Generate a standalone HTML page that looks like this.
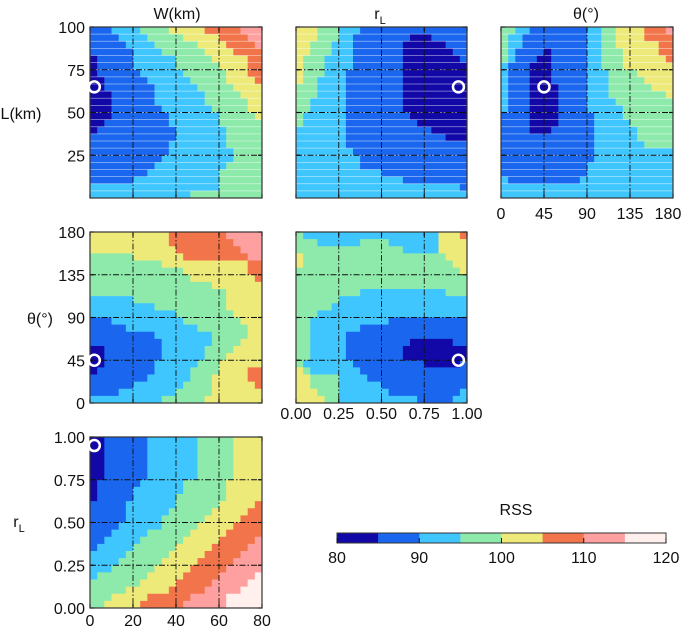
<!DOCTYPE html>
<html><head><meta charset="utf-8">
<style>
html,body{margin:0;padding:0;background:#fff;}
svg{display:block;font-family:"Liberation Sans",sans-serif;}
</style></head>
<body>
<svg id="chart" width="685" height="631" viewBox="0 0 685 631" xmlns="http://www.w3.org/2000/svg"></svg>
<script>
// RSS level classes per cell (0:80-85 ... 7:115-120), rows from top to bottom
const levelColors = ["#1208a8","#1a66ee","#40c6ff","#8eeaaa","#eeea7a","#f2744a","#ffa0a0","#fff0ee"];
const rssTicks = [80, 90, 100, 110, 120];
const gridA = [
"111222233334444455555666","111122223333344444555566","111112222333333444455556","111111222233333344445555",
"011111222222333334444455","011111222222333333444455","011111122222233333344455","001111112222223333344445",
"001111111222222333334444","000111111222222233333444","000111111222222233333344","000111111122222223333344",
"000111111112222222333334","001111111112222222333333","011111111111222222233333","111111111111222222233333",
"111111111112222222233333","111111111112222222223333","111111111122222222223333","111111111222222222233333",
"111111112222222222333333","111111222222222222333333","222222222222222222333333","222222222222223333333333"];
const gridB = [
"444333222111111111111111","444333221111111100011111","443332221111111000000111","443332221111111000000011",
"433322221111111000000001","433322221111111000000000","433322211111111000000000","433222211111111000000000",
"333222211111111000000000","333222211111111000000000","332222211111111000000000","332222211111111000000000",
"322222211111111100000000","322222211111111110000000","222222211111111111100000","222222211111111111111000",
"222222211111111111111111","222222221111111111111111","222222222111111111111111","222222222111111111111111",
"222222222222111111111111","222222222222222111111111","222222222222222222222221","222222222222222222222222"];
const gridC = [
"332211111111223344445556","322111111111223344445555","322111111111223344444455","321111011111223334444455",
"321110011111223334444445","211100011111223334444444","211100011111222333344444","211100011111222333334444",
"211100001111222333333444","211100001111222333333334","211100001111222233333333","211100001111222223333333",
"111100001111122223333333","111100001111122222333333","111100011111122222233333","111111111111122222233333",
"111111111111122222223333","111111111111122222222222","111111111111122222222222","111111111111222222222222",
"111111111111222222222222","211111111112222222222222","222222222222222222222222","222222222222222222222222"];
const gridD = [
"444444444445555555566666","444444444445555555556666","444444444444555555555666","333333444444455555555566",
"333333333344444444444455","333333333333344444444455","333333333333334444444445","333333333333333334444444",
"333333333333333333344444","222222333333333333344444","222222222333333333344444","222222222222333333334444",
"111222222222233333333444","111112222222222333333344","111111111222222223333344","111111111122222223333444",
"001111111122222233334444","001111111122222233344444","001111111222222333444444","011111111222223333444455",
"111111112222223334444455","111111222222233334444445","111122222222333334444444","222222222233333344444444"];
const gridE = [
"322222222222222222224445","333222222333322222224444","333333333333333222224444","433333333333333333333444",
"433333333333333333333344","333333333333333333333334","333333333333333333333333","333333333333333333333333",
"333333333222222222222333","333333222222222222222222","333332222222222222222222","333222222222222222222222",
"332222222222211111111111","332222222111111111111111","332222211111111111111111","332222211111111100000011",
"332222211111111000000000","332222211111111000000000","322222221111111111000001","432222222111111111111111",
"443333222211111111111111","443333222222111111111111","444333222222211111111112","444433222222222221111122"];
const gridF = [
"001111112222222333334444","001111112222222333334444","001111112222222333334444","001111112222222333334444",
"001111112222222333334444","001111112222222333334444","011111122222233333344444","011111222222233333344444",
"011111222222333333344444","111112222222333333444445","111112222223333334444455","111112222233333344444555",
"111122222233333444445555","111222223333334444455555","112222233333344444555556","122222333333444445555566",
"222223333334444455555666","222233333344444555556666","222333333444445555566666","233333334444455555666667",
"333333344444555556666677","333334444445555566666777","333444445555556666677777","334444455555566666677777"];
const wTicks = [0,20,40,60,80], lTicks = [25,50,75,100], rTicks = [0,0.25,0.5,0.75,1.0], thTicks = [0,45,90,135,180];
const bestW = 2, bestL = 65, bestR = 0.95, bestTh = 45;

const svg = document.getElementById('chart');
const NS = "http://www.w3.org/2000/svg";
function mk(tag, attrs, parent){ const e=document.createElementNS(NS,tag); for(const k in attrs) e.setAttribute(k,attrs[k]); (parent||svg).appendChild(e); return e; }

function scale(d0,d1,r0,r1){ return v => r0 + (v-d0)/(d1-d0)*(r1-r0); }

function panel(name, box, grid, xd, yd, xt, yt, best, striped){
  const g = mk('g',{});
  
  
  const [x0,y0,x1,y1] = box;
  const rows = grid.length, cols = grid[0].length;
  const cw=(x1-x0)/cols, ch=(y1-y0)/rows;
  for(let r=0;r<rows;r++){
    for(let c=0;c<cols;c++){
      const cell = mk('rect',{x:(x0+c*cw).toFixed(2),y:(y0+r*ch).toFixed(2),width:(cw+0.4).toFixed(2),height:(ch+0.4).toFixed(2),fill:levelColors[+grid[r][c]]},g);
      
      
    }
    if(striped && r>0){
      mk('line',{x1:x0,x2:x1,y1:y0+r*ch,y2:y0+r*ch,stroke:"#fff","stroke-width":0.8,"stroke-opacity":0.55},g);
    }
  }
  const sx=scale(xd[0],xd[1],x0,x1), sy=scale(yd[0],yd[1],y1,y0);
  xt.forEach(v=>{ const x=sx(v); if(x>x0+1&&x<x1-1){ mk('line',{x1:x,x2:x,y1:y0,y2:y1,stroke:"#111","stroke-width":0.9,"stroke-dasharray":"6,2,1.5,2"},g);} 
    mk('line',{x1:x,x2:x,y1:y1,y2:y1-4,stroke:"#111","stroke-width":1.2},g); mk('line',{x1:x,x2:x,y1:y0,y2:y0+4,stroke:"#111","stroke-width":1.2},g);});
  yt.forEach(v=>{ const y=sy(v); if(y>y0+1&&y<y1-1){ mk('line',{x1:x0,x2:x1,y1:y,y2:y,stroke:"#111","stroke-width":0.9,"stroke-dasharray":"6,2,1.5,2"},g);} 
    mk('line',{x1:x0,x2:x0+4,y1:y,y2:y,stroke:"#111","stroke-width":1.2},g); mk('line',{x1:x1,x2:x1-4,y1:y,y2:y,stroke:"#111","stroke-width":1.2},g);});
  mk('rect',{x:x0,y:y0,width:x1-x0,height:y1-y0,fill:"none",stroke:"#333","stroke-width":1.2},g);
  const m = mk('circle',{cx:sx(best[0]),cy:sy(best[1]),r:5.5,fill:"none",stroke:"#fff","stroke-width":2.5},g);
  
  
  return {sx,sy};
}
function text(name,x,y,str,anchor,size){
  const t = mk('text',{x:x,y:y,"text-anchor":anchor||"middle","font-size":size||16,fill:"#111"});
  t.textContent=str;
  
  
  return t;
}

const A = panel('panel-w-vs-l',[90,27,262,198],gridA,[0,80],[0,100],wTicks,lTicks,[bestW,bestL],true);
const B = panel('panel-rl-vs-l',[296,27,467,198],gridB,[0,1],[0,100],rTicks,lTicks,[bestR,bestL],true);
const C = panel('panel-theta-vs-l',[501,27,673,198],gridC,[0,180],[0,100],thTicks,lTicks,[bestTh,bestL],true);
const D = panel('panel-w-vs-theta',[90,232,262,403],gridD,[0,80],[0,180],wTicks,thTicks,[bestW,bestTh],false);
const E = panel('panel-rl-vs-theta',[296,232,467,403],gridE,[0,1],[0,180],rTicks,thTicks,[bestR,bestTh],false);
const F = panel('panel-w-vs-rl',[90,437,262,608],gridF,[0,80],[0,1],wTicks,rTicks,[bestW,bestR],false);

// titles
text('column-title-w',177,19,'W(km)');
const tr = text('column-title-rl',380,19,'r');
const sub = document.createElementNS(NS,'tspan'); sub.setAttribute('font-size','11'); sub.setAttribute('dy','5'); sub.textContent='L'; tr.appendChild(sub);
text('column-title-theta',586,19,'θ(°)');
text('y-axis-title-l',21,119,'L(km)');
text('y-axis-title-theta',40,324,'θ(°)');
const yr = text('y-axis-title-rl',19,527,'r');
const sub2 = document.createElementNS(NS,'tspan'); sub2.setAttribute('font-size','11'); sub2.setAttribute('dy','5'); sub2.textContent='L'; yr.appendChild(sub2);

// tick labels
lTicks.forEach(v=>text('y-tick-label',85,A.sy(v)+6,String(v),'end'));
thTicks.forEach(v=>text('y-tick-label',85,D.sy(v)+6,String(v),'end'));
rTicks.forEach(v=>text('y-tick-label',85,F.sy(v)+6,v.toFixed(2),'end'));
thTicks.forEach(v=>text('x-tick-label',Math.min(C.sx(v),668),219,String(v)));
rTicks.forEach(v=>text('x-tick-label',E.sx(v),419,v.toFixed(2)));
wTicks.forEach(v=>text('x-tick-label',F.sx(v),626,String(v)));

// colorbar
const cb = mk('g',{});


const cx=scale(80,120,337,666);
levelColors.forEach((col,i)=>{ mk('rect',{x:cx(80+5*i),y:533,width:cx(85)-cx(80)+0.3,height:10,fill:col},cb); });
mk('rect',{x:337,y:533,width:329,height:10,fill:"none",stroke:"#333","stroke-width":1},cb);
rssTicks.forEach(v=>{ mk('line',{x1:cx(v),x2:cx(v),y1:543,y2:538,stroke:"#111","stroke-width":1},cb); text('colorbar-tick-label',cx(v),563,String(v)); });
text('colorbar-title',516,515,'RSS');
</script>
</body></html>
